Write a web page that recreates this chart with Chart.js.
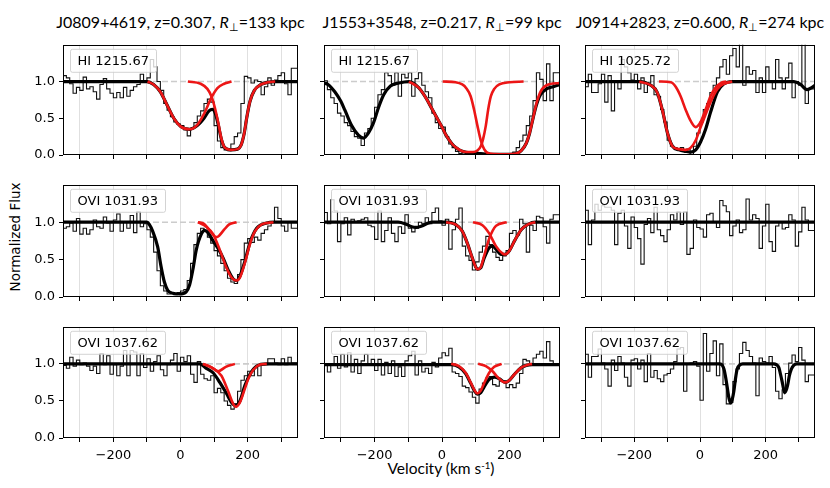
<!DOCTYPE html>
<html>
<head>
<meta charset="utf-8">
<script src="https://cdn.jsdelivr.net/npm/chart.js@4.4.1/dist/chart.umd.min.js"></script>
<style>
  body { margin: 0; background: #fff; }
  #fig { position: relative; width: 830px; height: 488px; overflow: hidden; font-family: "DejaVu Sans", sans-serif; }
  #fig canvas { position: absolute; }
  .ttl { position: absolute; top: 12px; font-family: Lato, sans-serif; font-size: 16px; white-space: nowrap; transform: translateX(-50%); color: #000; }
  .ttl sub { font-size: 68%; vertical-align: -0.3em; line-height: 0; }
  #ylab { position: absolute; left: 15px; top: 237px; transform: translate(-50%, -50%) rotate(-90deg); font-size: 13.5px; white-space: nowrap; }
  #xlab { position: absolute; left: 441px; top: 459px; transform: translateX(-50%); font-family: Lato, sans-serif; font-size: 15.5px; white-space: nowrap; }
  #xlab sup { font-size: 62%; line-height: 0; vertical-align: 0.55em; }
</style>
</head>
<body>
<div id="fig">
  <div id="ylab">Normalized Flux</div>
  <div id="xlab">Velocity (km s<sup>-1</sup>)</div>
</div>
<script>
// velocity bins (left edges, km/s)
var vel = [-350,-340,-330,-320,-310,-300,-290,-280,-270,-260,
           -250,-240,-230,-220,-210,-200,-190,-180,-170,-160,
           -150,-140,-130,-120,-110,-100,-90,-80,-70,-60,
           -50,-40,-30,-20,-10,0,10,20,30,40,
           50,60,70,80,90,100,110,120,130,140,
           150,160,170,180,190,200,210,220,230,240,
           250,260,270,280,290,300,310,320,330,340];

var xTicks = [-300,-200,-100,0,100,200,300];
var yTicks = [0, 0.5, 1.0];

var sightlines = ['J0809+4619, z=0.307, <i>R</i><sub>\u22a5</sub>=133 kpc',
                  'J1553+3548, z=0.217, <i>R</i><sub>\u22a5</sub>=99 kpc',
                  'J0914+2823, z=0.600, <i>R</i><sub>\u22a5</sub>=274 kpc'];

// ---- J0809+4619 ----
var fluxJ0809HI = [1.02,1.08,1.05,0.97,0.84,0.92,0.88,1.06,0.9,0.93,
                   0.86,0.76,0.96,1.04,0.9,0.84,0.78,0.85,0.78,0.92,
                   0.8,0.88,0.93,0.96,1.1,1.0,1.05,1.3,1.2,1.0,
                   0.88,0.7,0.61,0.52,0.45,0.42,0.4,0.34,0.26,0.36,
                   0.44,0.53,0.6,0.7,0.76,0.72,0.4,0.19,0.1,0.07,
                   0.06,0.15,0.25,0.3,0.7,1.07,1.05,0.98,1.02,1.0,
                   0.82,0.93,1.05,0.95,1.02,1.08,1.12,0.97,0.82,1.18];
var modelJ0809HI = [[-350,1],[-100,1],[-80,0.96],[-60,0.86],[-40,0.68],[-20,0.5],[0,0.39],[27,0.35],[50,0.4],[70,0.5],[85,0.6],[95,0.62],[105,0.55],[112,0.42],[122,0.21],[132,0.1],[150,0.07],[170,0.08],[180,0.13],[190,0.3],[197,0.5],[207,0.73],[220,0.88],[240,0.96],[260,0.99],[285,1],[350,1]];
var compJ0809HIa = [[-98,1],[-80,0.96],[-60,0.86],[-40,0.68],[-20,0.5],[0,0.39],[27,0.35],[50,0.41],[70,0.56],[92,0.78],[110,0.91],[130,0.97],[152,1]];
var compJ0809HIb = [[22,1],[60,0.97],[80,0.9],[92,0.8],[102,0.65],[112,0.45],[122,0.22],[132,0.1],[150,0.07],[170,0.08],[180,0.13],[190,0.3],[197,0.5],[207,0.73],[220,0.88],[240,0.96],[260,0.99],[282,1]];

var fluxJ0809OVIa = [0.98,0.92,0.94,0.99,0.88,1.05,0.84,0.92,0.84,0.9,
                     1.03,0.94,0.92,1.07,0.99,0.88,1.03,1.11,0.88,1.0,
                     0.92,1.09,0.86,1.14,0.94,0.98,0.9,0.8,0.6,0.35,
                     0.15,0.08,0.04,0.06,0.03,0.06,0.08,0.1,0.22,0.45,
                     0.7,0.85,0.92,0.88,0.8,0.72,0.62,0.55,0.45,0.35,
                     0.25,0.2,0.18,0.3,0.5,0.72,0.78,0.73,0.8,0.76,
                     0.85,0.9,0.95,1.0,1.2,1.05,0.95,0.88,1.0,0.92];
var modelJ0809OVIa = [[-350,1],[-100,1],[-93,0.97],[-83,0.88],[-68,0.67],[-58,0.41],[-48,0.2],[-38,0.09],[-23,0.05],[-3,0.04],[17,0.07],[27,0.16],[37,0.37],[47,0.63],[62,0.84],[72,0.89],[82,0.86],[97,0.75],[112,0.65],[127,0.52],[142,0.36],[157,0.24],[167,0.22],[177,0.28],[192,0.48],[207,0.73],[227,0.92],[257,0.99],[280,1],[350,1]];
var compJ0809OVIa1 = [[52,1],[70,0.98],[85,0.9],[100,0.82],[107,0.8],[115,0.82],[130,0.9],[145,0.97],[167,1]];
var compJ0809OVIa2 = [[52,1],[77,0.94],[97,0.84],[117,0.63],[137,0.39],[152,0.26],[165,0.22],[177,0.26],[192,0.46],[207,0.71],[222,0.88],[242,0.97],[277,1]];

var fluxJ0809OVIb = [1.18,0.98,0.94,1.09,0.97,1.05,0.99,1.01,0.97,0.91,
                     0.97,0.87,1.14,0.99,1.11,0.86,0.99,0.84,0.97,1.18,
                     0.84,1.18,1.16,0.84,1.14,0.95,1.07,0.9,1.03,1.11,
                     0.92,0.84,0.99,1.05,1.14,0.9,1.09,1.03,1.11,0.86,
                     0.75,1.03,0.86,0.8,0.78,0.84,0.61,0.67,0.61,0.5,
                     0.44,0.39,0.46,0.63,0.78,0.84,0.9,0.84,0.95,0.84,
                     0.99,0.99,1.07,1.07,1.01,0.99,1.07,0.99,1.09,1.01];
var modelJ0809OVIb = [[-350,1],[57,1],[77,0.94],[97,0.88],[117,0.75],[137,0.6],[152,0.48],[164,0.44],[177,0.5],[192,0.71],[207,0.86],[227,0.97],[257,1],[350,1]];
var compJ0809OVIb1 = [[67,1],[90,0.96],[112,0.9],[135,0.96],[162,1]];
var compJ0809OVIb2 = [[67,1],[97,0.94],[122,0.84],[142,0.63],[157,0.46],[165,0.42],[177,0.48],[192,0.67],[202,0.8],[217,0.92],[237,0.99],[257,1]];

// ---- J1553+3548 ----
var fluxJ1553HI = [1.0,1.01,0.89,0.78,0.7,0.57,0.53,0.44,0.4,0.32,
                   0.25,0.23,0.13,0.3,0.36,0.5,0.65,0.82,0.89,1.12,
                   1.08,0.95,1.12,0.8,1.1,1.05,1.12,0.8,1.04,1.12,
                   0.95,0.86,0.78,0.57,0.44,0.36,0.38,0.25,0.15,0.1,
                   0.05,0.02,0.01,0.03,0.0,0.02,0.01,0.0,0.02,0.03,
                   0.01,0.02,0.0,0.01,0.02,0.02,0.02,0.04,0.1,0.19,
                   0.27,0.4,0.53,0.74,1.12,1.03,0.74,1.24,0.74,1.12];
var modelJ1553HI = [[-350,0.98],[-338,0.96],[-318,0.86],[-300,0.73],[-288,0.61],[-268,0.4],[-248,0.27],[-233,0.23],[-218,0.3],[-203,0.44],[-188,0.65],[-173,0.82],[-153,0.94],[-128,0.98],[-98,1],[-70,0.92],[-48,0.78],[-30,0.63],[-18,0.53],[0,0.38],[12,0.27],[30,0.15],[42,0.1],[60,0.05],[72,0.035],[92,0.03],[110,0.02],[140,0.01],[200,0.01],[220,0.02],[235,0.06],[250,0.16],[260,0.3],[270,0.5],[280,0.68],[292,0.82],[310,0.9],[330,0.93],[350,0.96]];
var compJ1553HIa = [[-98,1],[-70,0.92],[-48,0.78],[-30,0.63],[-18,0.53],[0,0.38],[12,0.27],[30,0.15],[42,0.1],[60,0.05],[72,0.04],[92,0.04],[105,0.06],[115,0.12],[122,0.22],[130,0.4],[137,0.62],[145,0.8],[155,0.9],[170,0.96],[200,0.99],[242,1]];
var compJ1553HIb = [[2,1],[40,0.99],[60,0.96],[72,0.91],[85,0.8],[95,0.62],[105,0.4],[115,0.2],[125,0.08],[140,0.02],[170,0.01],[200,0.01],[220,0.02],[235,0.06],[250,0.16],[260,0.3],[270,0.5],[280,0.7],[292,0.86],[310,0.95],[350,0.98]];

var fluxJ1553OVIa = [1.0,1.13,0.98,1.3,1.15,0.74,0.98,1.06,0.83,1.04,
                     1.0,1.02,1.04,1.06,0.96,0.94,0.77,1.15,0.74,0.89,
                     1.06,0.85,0.74,0.94,0.85,1.1,0.92,0.87,0.92,1.0,
                     0.98,1.06,0.98,1.13,1.19,1.02,0.96,1.04,0.64,0.9,
                     1.04,1.19,0.68,0.55,0.49,0.36,0.47,0.6,0.68,0.81,
                     0.7,0.6,0.53,0.49,0.55,0.62,0.85,0.89,0.83,1.04,
                     0.98,0.6,0.96,0.89,1.08,1.06,0.94,0.72,1.04,1.1];
var modelJ1553OVIa = [[-350,1],[-130,1],[-110,0.98],[-90,0.94],[-78,0.93],[-60,0.95],[-40,0.99],[-28,1],[12,1],[40,0.97],[60,0.88],[75,0.72],[90,0.52],[100,0.4],[105,0.37],[115,0.39],[125,0.52],[140,0.66],[150,0.68],[160,0.64],[175,0.57],[187,0.57],[200,0.62],[215,0.75],[235,0.9],[255,0.97],[277,1],[350,1]];
var compJ1553OVIa1 = [[12,1],[40,0.97],[60,0.88],[75,0.72],[90,0.52],[100,0.4],[105,0.37],[115,0.4],[125,0.55],[140,0.78],[160,0.95],[192,1]];
var compJ1553OVIa2 = [[92,1],[120,0.96],[140,0.85],[160,0.68],[180,0.58],[187,0.57],[200,0.62],[215,0.75],[235,0.9],[255,0.97],[277,1]];

var fluxJ1553OVIb = [0.96,1.0,0.89,1.0,1.1,0.94,1.13,0.96,1.15,0.89,
                     1.06,0.87,1.04,1.13,1.0,1.06,0.91,1.06,0.85,1.02,
                     0.87,1.04,0.83,0.96,0.83,1.04,1.11,1.17,0.85,1.04,
                     0.89,0.94,0.87,1.02,0.96,1.08,1.15,1.11,1.21,0.89,
                     0.87,0.83,0.7,0.68,0.62,0.55,0.47,0.66,0.74,0.81,
                     0.83,0.72,0.7,0.77,0.77,0.68,0.72,0.68,0.74,0.87,
                     1.06,1.04,1.0,1.08,1.13,1.17,1.08,1.3,1.04,1.0];
var modelJ1553OVIb = [[-350,0.99],[27,0.99],[50,0.96],[70,0.87],[85,0.74],[97,0.63],[105,0.59],[115,0.61],[125,0.69],[140,0.79],[155,0.82],[170,0.8],[187,0.75],[200,0.78],[215,0.86],[235,0.95],[250,0.98],[267,0.99],[350,0.99]];
var compJ1553OVIb1 = [[27,1],[50,0.97],[70,0.88],[85,0.75],[97,0.64],[105,0.6],[115,0.64],[125,0.74],[140,0.88],[155,0.96],[177,1]];
var compJ1553OVIb2 = [[107,1],[130,0.97],[150,0.9],[165,0.82],[180,0.76],[187,0.75],[200,0.78],[215,0.86],[235,0.95],[250,0.98],[267,1]];

// ---- J0914+2823 ----
var fluxJ0914HI = [1.0,0.93,1.1,0.85,0.85,0.97,1.1,0.72,1.08,0.6,
                   1.0,0.9,1.3,1.2,1.12,1.02,1.1,0.9,1.05,0.85,
                   0.98,1.08,0.82,0.8,0.62,0.45,0.2,0.12,0.1,0.08,
                   0.1,0.05,0.08,0.0,0.12,0.3,0.45,0.62,0.7,0.85,
                   0.95,1.05,1.2,1.3,1.1,1.35,1.45,1.2,1.55,0.95,
                   1.2,1.1,1.15,0.85,1.05,0.85,1.2,1.0,0.9,1.3,
                   1.05,0.9,1.05,1.25,0.78,1.0,0.95,1.55,0.7,0.9];
var modelJ0914HI = [[-350,1],[-185,1],[-150,0.95],[-130,0.85],[-114,0.6],[-99,0.3],[-84,0.12],[-64,0.07],[-44,0.05],[-28,0.04],[-13,0.07],[2,0.18],[17,0.35],[32,0.58],[53,0.86],[73,0.97],[98,1],[286,1],[306,0.96],[326,0.89],[341,0.92],[350,0.95]];
var compJ0914HIa = [[-185,1],[-150,0.95],[-130,0.85],[-114,0.6],[-99,0.3],[-84,0.12],[-64,0.08],[-44,0.07],[-28,0.1],[-13,0.2],[2,0.38],[17,0.55],[32,0.72],[53,0.9],[73,0.97],[98,1]];
var compJ0914HIb = [[-125,1],[-89,0.99],[-74,0.93],[-59,0.8],[-44,0.62],[-28,0.46],[-13,0.38],[2,0.45],[17,0.62],[32,0.8],[48,0.92],[63,0.98],[80,1]];

var fluxJ0914OVIa = [0.95,1.16,0.7,1.03,1.24,1.16,1.22,1.2,1.2,1.16,
                     0.7,1.12,1.16,0.95,0.65,1.07,0.93,0.78,0.44,0.97,
                     1.05,0.86,1.2,0.9,0.82,0.74,0.9,1.1,1.03,1.14,
                     0.97,1.14,0.57,0.65,1.03,0.93,0.91,0.8,1.1,1.12,
                     1.0,0.93,1.29,1.22,1.14,0.82,0.95,1.03,0.86,0.9,
                     1.31,1.03,1.1,1.05,0.65,0.95,1.24,0.74,0.61,0.95,
                     1.01,0.91,0.93,1.1,1.03,0.68,0.87,1.2,1.03,0.89];
var modelJ0914OVIa = [[-350,1],[350,1]];

var fluxJ0914OVIb = [1.35,1.13,0.82,1.1,1.1,1.2,1.01,0.93,0.7,1.05,
                     0.91,1.1,1.01,0.82,0.7,1.05,1.07,0.93,1.05,0.76,
                     1.14,0.82,0.91,0.8,0.76,0.85,0.87,0.93,1.03,1.2,
                     1.22,0.63,1.0,1.01,1.03,0.97,0.51,1.41,0.9,1.14,
                     1.31,0.84,1.27,0.72,0.46,0.48,0.76,0.93,1.14,1.29,
                     1.18,1.1,1.01,0.57,1.08,1.03,1.01,1.1,0.95,0.63,
                     0.53,0.65,0.87,1.01,1.12,1.03,1.22,1.05,0.76,0.85];
var modelJ0914OVIb = [[-350,1],[60,1],[68,0.98],[73,0.93],[78,0.82],[83,0.68],[88,0.54],[93,0.47],[98,0.52],[103,0.63],[108,0.8],[113,0.93],[120,0.98],[130,1],[225,1],[232,0.99],[240,0.95],[245,0.86],[250,0.76],[254,0.67],[258,0.61],[262,0.64],[267,0.72],[272,0.84],[278,0.93],[285,0.98],[295,1],[350,1]];

var panels = [
  {col:0, row:0, label:'HI 1215.67',  flux:fluxJ0809HI,   model:modelJ0809HI,   comps:[compJ0809HIa, compJ0809HIb]},
  {col:0, row:1, label:'OVI 1031.93', flux:fluxJ0809OVIa, model:modelJ0809OVIa, comps:[compJ0809OVIa1, compJ0809OVIa2]},
  {col:0, row:2, label:'OVI 1037.62', flux:fluxJ0809OVIb, model:modelJ0809OVIb, comps:[compJ0809OVIb1, compJ0809OVIb2]},
  {col:1, row:0, label:'HI 1215.67',  flux:fluxJ1553HI,   model:modelJ1553HI,   comps:[compJ1553HIa, compJ1553HIb]},
  {col:1, row:1, label:'OVI 1031.93', flux:fluxJ1553OVIa, model:modelJ1553OVIa, comps:[compJ1553OVIa1, compJ1553OVIa2]},
  {col:1, row:2, label:'OVI 1037.62', flux:fluxJ1553OVIb, model:modelJ1553OVIb, comps:[compJ1553OVIb1, compJ1553OVIb2]},
  {col:2, row:0, label:'HI 1025.72',  flux:fluxJ0914HI,   model:modelJ0914HI,   comps:[compJ0914HIa, compJ0914HIb]},
  {col:2, row:1, label:'OVI 1031.93', flux:fluxJ0914OVIa, model:modelJ0914OVIa, comps:[]},
  {col:2, row:2, label:'OVI 1037.62', flux:fluxJ0914OVIb, model:modelJ0914OVIb, comps:[]}
];

// page layout of the axes boxes
var colBox = [[63, 298], [324, 560], [585, 815]];
var rowBox = [[37, 155], [177, 297], [319, 438]];
var PAD_L = 55, PAD_R = 8, PAD_T = 4, PAD_B = 34;

var fig = document.getElementById('fig');

sightlines.forEach(function (t, i) {
  var d = document.createElement('div');
  d.className = 'ttl';
  d.innerHTML = t;
  d.style.left = ((colBox[i][0] + colBox[i][1]) / 2) + 'px';
  fig.appendChild(d);
});

// frame around each axes + the transition label box
var frameBox = {
  id: 'frameBox',
  afterDatasetsDraw: function (chart, args, opts) {
    var a = chart.chartArea, ctx = chart.ctx;
    ctx.save();
    ctx.font = '13px "DejaVu Sans"';
    var tw = ctx.measureText(opts.text).width;
    var bx = a.left + 7.5, by = a.top + 4.5, bw = Math.round(tw + 14), bh = 23;
    ctx.beginPath();
    ctx.roundRect(bx, by, bw, bh, 2);
    ctx.fillStyle = 'rgba(255,255,255,0.8)';
    ctx.fill();
    ctx.strokeStyle = 'rgba(200,200,200,0.8)';
    ctx.lineWidth = 1;
    ctx.stroke();
    ctx.fillStyle = '#000';
    ctx.textBaseline = 'middle';
    ctx.fillText(opts.text, bx + 7, by + bh / 2 + 1);
    ctx.strokeStyle = '#000';
    ctx.lineWidth = 1;
    ctx.strokeRect(Math.round(a.left) + 0.5, Math.round(a.top) + 0.5, Math.round(a.right - a.left) - 1, Math.round(a.bottom - a.top) - 1);
    ctx.restore();
  }
};

function pairs(arr) {
  return arr.map(function (p) { return {x: p[0], y: p[1]}; });
}

panels.forEach(function (p) {
  var x0 = colBox[p.col][0], x1 = colBox[p.col][1];
  var y0 = rowBox[p.row][0], y1 = rowBox[p.row][1];
  var W = (x1 - x0) + PAD_L + PAD_R, H = (y1 - y0) + PAD_T + PAD_B;
  var cv = document.createElement('canvas');
  cv.width = W; cv.height = H;
  cv.style.width = W + 'px'; cv.style.height = H + 'px';
  cv.style.left = (x0 - PAD_L) + 'px';
  cv.style.top = (y0 - PAD_T) + 'px';
  fig.appendChild(cv);

  var steps = vel.map(function (v, i) { return {x: v, y: p.flux[i]}; });
  steps.push({x: 350, y: p.flux[p.flux.length - 1]});

  var datasets = [];
  p.comps.forEach(function (c) {
    datasets.push({data: pairs(c), borderColor: 'rgb(236,22,22)', borderWidth: 2.6, cubicInterpolationMode: 'monotone'});
  });
  datasets.push({data: pairs(p.model), borderColor: '#000', borderWidth: 3.2, cubicInterpolationMode: 'monotone'});
  datasets.push({data: steps, borderColor: '#111', borderWidth: 1.1, stepped: 'after'});
  datasets.push({data: [{x: -350, y: 1}, {x: 350, y: 1}], borderColor: '#cccccc', borderWidth: 1.6, borderDash: [6, 3]});

  var showY = p.col === 0, showX = p.row === 2;

  new Chart(cv, {
    type: 'line',
    data: {datasets: datasets},
    plugins: [frameBox],
    options: {
      responsive: false,
      animation: false,
      events: [],
      layout: {padding: {top: PAD_T, right: PAD_R, left: 0, bottom: 0}},
      elements: {point: {radius: 0}, line: {fill: false}},
      plugins: {legend: {display: false}, tooltip: {enabled: false}, frameBox: {text: p.label}},
      scales: {
        x: {
          type: 'linear', min: -350, max: 350,
          afterBuildTicks: function (s) { s.ticks = xTicks.map(function (v) { return {value: v}; }); },
          afterFit: function (s) { s.height = PAD_B; },
          grid: {color: '#e0e0e0', lineWidth: 1, tickColor: '#000', tickLength: 4},
          border: {display: false},
          ticks: {
            autoSkip: false, maxRotation: 0, padding: 6, color: '#000',
            font: {family: 'DejaVu Sans', size: 13},
            callback: function (v) {
              if (!showX || v % 200 !== 0) return '';
              return v < 0 ? '\u2212' + (-v) : '' + v;
            }
          }
        },
        y: {
          min: 0, max: 1.5,
          afterBuildTicks: function (s) { s.ticks = yTicks.map(function (v) { return {value: v}; }); },
          afterFit: function (s) { s.width = PAD_L; },
          grid: {drawOnChartArea: false, tickColor: '#000', tickLength: 4},
          border: {display: false},
          ticks: {
            padding: 4, color: '#000',
            font: {family: 'DejaVu Sans', size: 13},
            callback: function (v) { return showY ? v.toFixed(1) : ''; }
          }
        }
      }
    }
  });
});
</script>
</body>
</html>
